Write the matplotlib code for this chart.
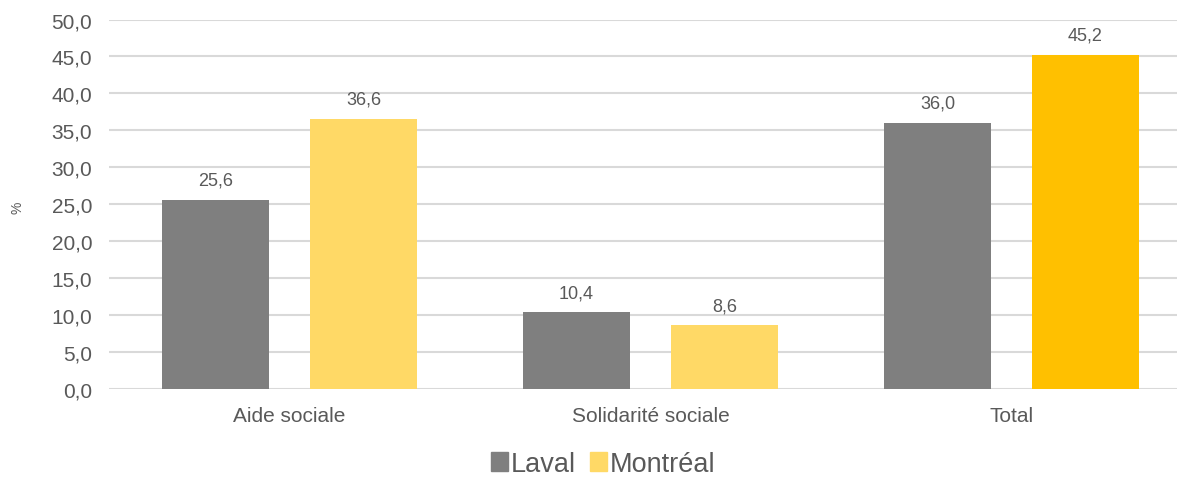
import numpy as np
import matplotlib.pyplot as plt
from matplotlib.patches import Patch

plt.rcParams['font.family'] = ['Liberation Sans', 'DejaVu Sans']

# Data
categories = ["Aide sociale", "Solidarité sociale", "Total"]
laval = [25.6, 10.4, 36.0]
montreal = [36.6, 8.6, 45.2]
yticks = [0, 5, 10, 15, 20, 25, 30, 35, 40, 45, 50]

grey = "#7F7F7F"
light_yellow = "#FFD966"
gold = "#FFC000"
text_col = "#595959"
montreal_colors = [light_yellow, light_yellow, gold]

W, H = 1177, 485
fig = plt.figure(figsize=(W / 100, H / 100), dpi=100)
ax = fig.add_axes([109 / W, 95 / H, 1 - 109 / W, 369.5 / H])

x = np.arange(len(categories))
bw = 0.294
off = 0.205
b1 = ax.bar(x - off, laval, bw, color=grey, zorder=3)
b2 = ax.bar(x + off, montreal, bw, color=montreal_colors, zorder=3)

for bars, vals in [(b1, laval), (b2, montreal)]:
    for b, v in zip(bars, vals):
        ax.annotate(f"{v:.1f}".replace(".", ","),
                    (b.get_x() + b.get_width() / 2, v),
                    xytext=(0, 8), textcoords="offset points",
                    ha="center", va="bottom", fontsize=13, color=text_col)

ax.set_xlim(-0.5, -0.5 + (W - 109) / 361)
ax.set_ylim(0, 50)
ax.set_yticks(yticks)
ax.set_yticklabels([f"{t:.1f}".replace(".", ",") for t in yticks])
ax.set_xticks(x)
ax.set_xticklabels(categories)
ax.tick_params(axis="both", length=0, labelsize=15, colors=text_col)
ax.tick_params(axis="y", pad=12)
ax.tick_params(axis="x", pad=12)
ax.grid(axis="y", color="#D9D9D9", linewidth=1.5, zorder=0)
for s in ax.spines.values():
    s.set_visible(False)

fig.text(18 / W, 1 - 208 / H, "%", rotation=90, ha="center", va="center",
         fontsize=10, color=text_col)

handles = [Patch(color=grey, label="Laval"), Patch(color=light_yellow, label="Montréal")]
fig.legend(handles=handles, loc="center", bbox_to_anchor=(603 / W, 1 - 465 / H),
           ncol=2, frameon=False, fontsize=19.5, labelcolor=text_col,
           handlelength=0.65, handleheight=0.65, handletextpad=0.1, columnspacing=0.5)

fig.savefig("out.png", dpi=100)
